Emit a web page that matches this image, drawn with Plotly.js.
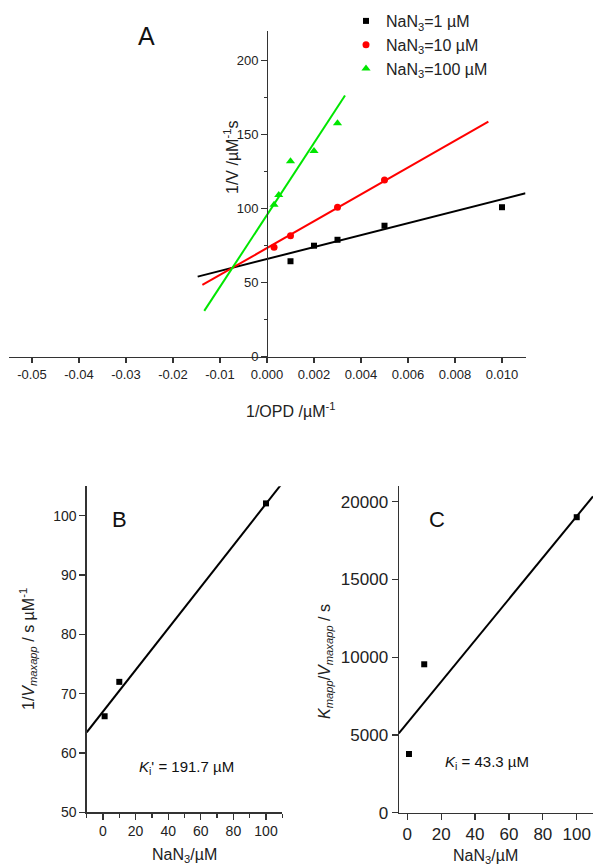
<!DOCTYPE html>
<html>
<head>
<meta charset="utf-8">
<script src="https://cdn.plot.ly/plotly-3.0.1.min.js"></script>
<style>html,body{margin:0;padding:0;background:#fff;}#plot{width:593px;height:866px;}</style>
</head>
<body>
<div id="plot"></div>
<script>
// ---------- Panel A: Lineweaver-Burk data ----------
const seriesNames = ['NaN<sub>3</sub>=1 \u00b5M', 'NaN<sub>3</sub>=10 \u00b5M', 'NaN<sub>3</sub>=100 \u00b5M'];
const xBlack = [0.001, 0.002, 0.003, 0.005, 0.010];
const yBlack = [64.5, 75.0, 79.0, 88.5, 101.0];
const xRed = [0.0003, 0.001, 0.003, 0.005];
const yRed = [74.0, 81.8, 101.0, 119.4];
const xGreen = [0.0003, 0.0005, 0.001, 0.002, 0.003];
const yGreen = [102.7, 109.3, 132.0, 139.0, 157.7];
// linear fits (slope, intercept) and drawn extent
const fitSlopeA = [4036, 9072, 24290];
const fitInterceptA = [66.0, 73.4, 95.8];
const fitStartA = [-0.00295, -0.00275, -0.00267];
const fitEndA = [0.011, 0.00942, 0.00332];
// x tick labels of panel A (left part of axis is compressed)
const tickLabelsA = ['-0.05', '-0.04', '-0.03', '-0.02', '-0.01', '0.000', '0.002', '0.004', '0.006', '0.008', '0.010'];
const tickPosA = [-0.010, -0.008, -0.006, -0.004, -0.002, 0, 0.002, 0.004, 0.006, 0.008, 0.010];

// ---------- Panel B ----------
const concB = [1, 10, 100];
const invVmaxB = [66.2, 72.0, 102.1];
const fitB = {slope: 0.3503, intercept: 67.0, start: -10, end: 110};

// ---------- Panel C ----------
const concC = [1, 10, 100];
const kmVmaxC = [3775, 9543, 19000];
const fitC = {slope: 133, intercept: 5760, start: -5, end: 109.6};

const colors = ['#000000', '#ff0000', '#00e600'];
const symbols = ['square', 'circle', 'triangle-up'];
const msize = [6, 7, 8];
const FONT = 'Arial, "Liberation Sans", sans-serif';
const AX = '#333333';

const W = 593, H = 866;
const fx = px => px / W;
const fy = py => 1 - py / H;

const traces = [];
const ptsX = [xBlack, xRed, xGreen];
const ptsY = [yBlack, yRed, yGreen];
for (let i = 0; i < 3; i++) {
  traces.push({
    x: ptsX[i], y: ptsY[i], type: 'scatter', mode: 'markers', name: seriesNames[i],
    marker: {color: colors[i], symbol: symbols[i], size: msize[i]},
    xaxis: 'x', yaxis: 'y', cliponaxis: false
  });
}
for (let i = 0; i < 3; i++) {
  const xs = [fitStartA[i], fitEndA[i]];
  traces.push({
    x: xs, y: xs.map(v => fitInterceptA[i] + fitSlopeA[i] * v), type: 'scatter', mode: 'lines',
    line: {color: colors[i], width: 2}, showlegend: false, xaxis: 'x', yaxis: 'y', hoverinfo: 'skip'
  });
}
// B
traces.push({x: concB, y: invVmaxB, type: 'scatter', mode: 'markers', showlegend: false,
  marker: {color: '#000', symbol: 'square', size: 6}, xaxis: 'x2', yaxis: 'y2', cliponaxis: false});
traces.push({x: [fitB.start, fitB.end], y: [fitB.start, fitB.end].map(v => fitB.intercept + fitB.slope * v),
  type: 'scatter', mode: 'lines', line: {color: '#000', width: 2}, showlegend: false, xaxis: 'x2', yaxis: 'y2'});
// C
traces.push({x: concC, y: kmVmaxC, type: 'scatter', mode: 'markers', showlegend: false,
  marker: {color: '#000', symbol: 'square', size: 6}, xaxis: 'x3', yaxis: 'y3', cliponaxis: false});
traces.push({x: [fitC.start, fitC.end], y: [fitC.start, fitC.end].map(v => fitC.intercept + fitC.slope * v),
  type: 'scatter', mode: 'lines', line: {color: '#000', width: 2}, showlegend: false, xaxis: 'x3', yaxis: 'y3'});

const axBase = {showline: true, linecolor: AX, linewidth: 1.3, showgrid: false, zeroline: false,
  ticks: 'outside', tickcolor: AX, tickwidth: 1.3, ticklen: 6, color: '#222', fixedrange: true};

function ann(text, px, py, size, extra) {
  return Object.assign({text: text, x: fx(px), y: fy(py), xref: 'paper', yref: 'paper', showarrow: false,
    xanchor: 'center', yanchor: 'middle', font: {size: size, color: '#222', family: FONT}}, extra || {});
}

const layout = {
  width: W, height: H, margin: {l: 0, r: 0, t: 0, b: 0},
  paper_bgcolor: '#fff', plot_bgcolor: 'rgba(0,0,0,0)',
  font: {family: FONT, color: '#222', size: 13},
  showlegend: true,
  legend: {x: fx(346), y: fy(4), xanchor: 'left', yanchor: 'top', bgcolor: 'rgba(0,0,0,0)',
    font: {family: FONT, size: 16, color: '#222'}, tracegroupgap: 0},
  xaxis: Object.assign({}, axBase, {domain: [fx(8.5), fx(525.5)], range: [-0.011, 0.011], anchor: 'y',
    tickmode: 'array', tickvals: tickPosA, ticktext: tickLabelsA, ticklen: 5, tickfont: {size: 13}}),
  yaxis: Object.assign({}, axBase, {domain: [fy(356.7), fy(31.1)], range: [0, 220], anchor: 'free', position: fx(267),
    tickvals: [0, 50, 100, 150, 200], tickfont: {size: 13},
    minor: {tickvals: [25, 75, 125, 175], ticks: 'outside', ticklen: 3, tickcolor: AX, tickwidth: 1.3}}),
  xaxis2: Object.assign({}, axBase, {domain: [fx(86.7), fx(282.3)], range: [-10, 110], anchor: 'y2',
    dtick: 20, tick0: 0, tickfont: {size: 14},
    minor: {dtick: 10, tick0: 0, ticks: 'outside', ticklen: 4, tickcolor: AX, tickwidth: 1.3}}),
  yaxis2: Object.assign({}, axBase, {domain: [fy(812.3), fy(486.2)], range: [50, 105], anchor: 'x2',
    dtick: 10, tick0: 50, tickfont: {size: 14}}),
  xaxis3: Object.assign({}, axBase, {domain: [fx(398.8), 1], range: [-5, 109.6], anchor: 'y3',
    dtick: 20, tick0: 0, tickfont: {size: 17}}),
  yaxis3: Object.assign({}, axBase, {domain: [fy(812.7), fy(486.1)], range: [0, 21000], anchor: 'x3',
    dtick: 5000, tick0: 0, tickformat: 'd', tickfont: {size: 17}}),
  annotations: [
    ann('A', 146, 36, 25, {font: {size: 25, color: '#111', family: FONT}}),
    ann('B', 119.5, 519.5, 22, {font: {size: 22, color: '#111', family: FONT}}),
    ann('C', 436.5, 519, 22, {font: {size: 22, color: '#111', family: FONT}}),
    ann('1/V /\u00b5M<sup>-1</sup>s', 231, 158, 16, {textangle: -90}),
    ann('1/OPD /\u00b5M<sup>-1</sup>', 290.5, 410, 16),
    ann('1/<i>V</i><sub><i>maxapp</i></sub> / s \u00b5M<sup>-1</sup>', 28, 649, 16, {textangle: -90}),
    ann('NaN<sub>3</sub>/\u00b5M', 184.5, 855, 16),
    ann('<i>K</i><sub>i</sub>\' = 191.7 \u00b5M', 186, 767, 15, {font: {size: 15, color: '#111', family: FONT}}),
    ann('<i>K</i><sub><i>mapp</i></sub>/<i>V</i><sub><i>maxapp</i></sub> / s', 325, 662, 16, {textangle: -90}),
    ann('NaN<sub>3</sub>/\u00b5M', 485, 856, 16),
    ann('<i>K</i><sub>i</sub> = 43.3 \u00b5M', 487, 762, 15, {font: {size: 15, color: '#111', family: FONT}})
  ]
};

Plotly.newPlot('plot', traces, layout, {staticPlot: true, displayModeBar: false});
</script>
</body>
</html>
